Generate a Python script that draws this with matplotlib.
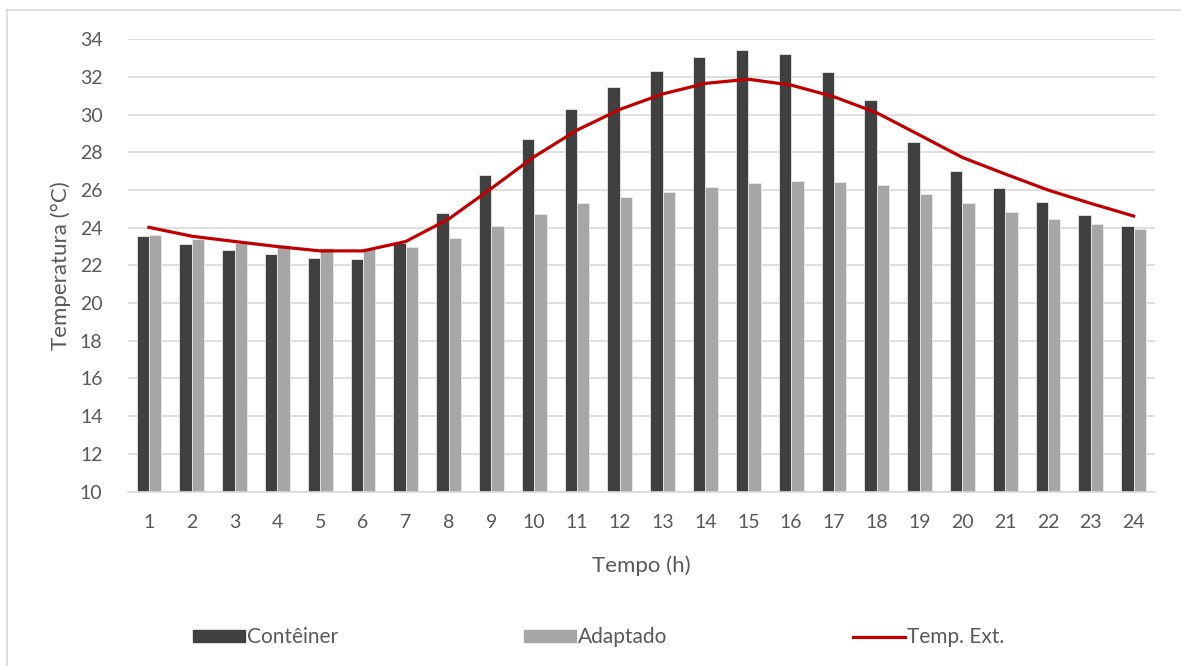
import numpy as np
import matplotlib.pyplot as plt
from matplotlib.lines import Line2D

plt.rcParams['font.family'] = ['Lato', 'DejaVu Sans']

# Dados
horas = list(range(1, 25))
conteiner = [23.57, 23.15, 22.83, 22.60, 22.37, 22.32, 23.20, 24.76, 26.79, 28.71,
             30.30, 31.47, 32.30, 33.08, 33.45, 33.20, 32.25, 30.76, 28.56, 27.02,
             26.09, 25.34, 24.69, 24.09]
adaptado = [23.62, 23.41, 23.17, 23.06, 22.95, 22.85, 22.99, 23.48, 24.10, 24.72,
            25.29, 25.64, 25.91, 26.16, 26.37, 26.48, 26.44, 26.25, 25.77, 25.29,
            24.84, 24.47, 24.18, 23.91]
temp_ext = [24.02, 23.55, 23.27, 23.00, 22.77, 22.77, 23.27, 24.46, 26.09, 27.77,
            29.18, 30.28, 31.10, 31.66, 31.88, 31.57, 30.95, 30.10, 28.92, 27.73,
            26.85, 26.00, 25.29, 24.62]

cor_texto = '#595959'
fig = plt.figure(figsize=(11.81, 6.66), dpi=100)
ax = fig.add_axes([0.108, 0.262, 0.870, 0.679])

x = np.arange(len(horas))
w = 0.29
ax.bar(x - w / 2, np.array(conteiner) - 10, w, bottom=10, color='#404040',
       edgecolor='#e8e8e8', linewidth=0.6, zorder=2, label='Contêiner')
ax.bar(x + w / 2, np.array(adaptado) - 10, w, bottom=10, color='#a6a6a6',
       edgecolor='#e8e8e8', linewidth=0.6, zorder=2, label='Adaptado')
ax.plot(x, temp_ext, color='#c00000', linewidth=2.3, zorder=3, label='Temp. Ext.')

ax.set_xlim(-0.5, len(horas) - 0.5)
ax.set_ylim(10, 34)
ax.set_yticks(np.arange(10, 35, 2))
ax.set_xticks(x)
ax.set_xticklabels([str(h) for h in horas])
ax.grid(axis='y', color='#d9d9d9', linewidth=1.2, zorder=0)
ax.set_axisbelow(True)
for s in ['top', 'right', 'left']:
    ax.spines[s].set_visible(False)
ax.spines['bottom'].set_color('#d9d9d9')
ax.spines['bottom'].set_linewidth(1.2)
ax.tick_params(length=0, colors=cor_texto, labelsize=14, pad=16)
ax.tick_params(axis='y', pad=18)
ax.set_xlabel('Tempo (h)', fontsize=16, color=cor_texto, labelpad=18)
ax.set_ylabel('Temperatura (°C)', fontsize=16, color=cor_texto, labelpad=6)

handles = [plt.Rectangle((0, 0), 1, 1, color='#404040'),
           plt.Rectangle((0, 0), 1, 1, color='#a6a6a6'),
           Line2D([0], [0], color='#c00000', linewidth=2.3)]
leg = fig.legend(handles, ['Contêiner', 'Adaptado', 'Temp. Ext.'], loc='center',
                 bbox_to_anchor=(0.507, 0.043), ncol=3, frameon=False, fontsize=15,
                 columnspacing=8.9, handlelength=2.5, handletextpad=0.1,
                 handleheight=0.55)
for t in leg.get_texts():
    t.set_color(cor_texto)

# moldura do gráfico
fig.add_artist(Line2D([7 / 1181, 1], [1 - 10 / 666, 1 - 10 / 666],
                      color='#d9d9d9', linewidth=1.2))
fig.add_artist(Line2D([7 / 1181, 7 / 1181], [0, 1 - 10 / 666],
                      color='#d9d9d9', linewidth=1.2))

plt.savefig('out.png', dpi=100)
